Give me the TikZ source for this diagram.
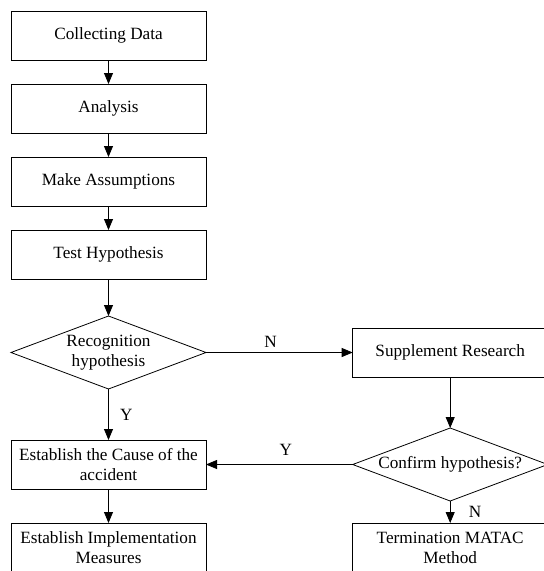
\documentclass[tikz,border=0pt]{standalone}
\usepackage{fontspec}
\setmainfont{Liberation Serif}
\usetikzlibrary{positioning}
\usetikzlibrary{shapes.geometric}
\usetikzlibrary{arrows.meta}

\begin{document}
\begin{tikzpicture}[x=1pt, y=-1pt,
                          font=\fontsize{17.2}{20}\selectfont,
                          line width=0.8pt,
                          >={Triangle[length=11pt, width=9pt]},
                          stepbox/.style={rectangle, draw, minimum width=195pt, minimum height=49pt, align=center, inner sep=0pt, outer sep=0pt},
                          decision/.style={diamond, draw, aspect=2.67, minimum width=195pt, minimum height=73pt, inner sep=0pt, outer sep=0pt, align=center},
                      ]
                      \useasboundingbox (0,0) rectangle (544,571);

                      %Nodes
                      \node[stepbox]    (collect)   at (108.5,35.5)                 {Collecting Data};
                      \node[stepbox]    (analysis)  [below=24pt of collect]        {Analysis};
                      \node[stepbox]    (assume)    [below=24pt of analysis]       {Make Assumptions};
                      \node[stepbox]    (test)      [below=24pt of assume]         {Test Hypothesis};
                      \node[decision]   (recog)     [below=37pt of test]           {Recognition\\hypothesis};
                      \node[stepbox]    (supp)      [right=146.7pt of recog]       {Supplement Research};
                      \node[decision]   (confirm)   [below=51pt of supp]           {Confirm hypothesis?};
                      \node[stepbox]    (cause)     [below=51pt of recog]          {Establish the Cause of the\\accident};
                      \node[stepbox]    (impl)      [below=34pt of cause]          {Establish Implementation\\Measures};
                      \node[stepbox]    (term)      [below=22pt of confirm]        {Termination MATAC\\Method};

                      %Lines
                      \draw[->] (collect.south) -- (analysis.north);
                      \draw[->] (analysis.south) -- (assume.north);
                      \draw[->] (assume.south) -- (test.north);
                      \draw[->] (test.south) -- (recog.north);
                      \draw[->] (recog.east) -- node[pos=0.44, above=1pt] {N} (supp.west);
                      \draw[->] (recog.south) -- node[right=8pt] {Y} (cause.north);
                      \draw[->] (supp.south) -- (confirm.north);
                      \draw[->] (confirm.west) -- node[pos=0.455, above=5pt] {Y} (cause.east);
                      \draw[->] (confirm.south) -- node[right=15pt] {N} (term.north);
                      \draw[->] (cause.south) -- (impl.north);
                  \end{tikzpicture}
\end{document}
